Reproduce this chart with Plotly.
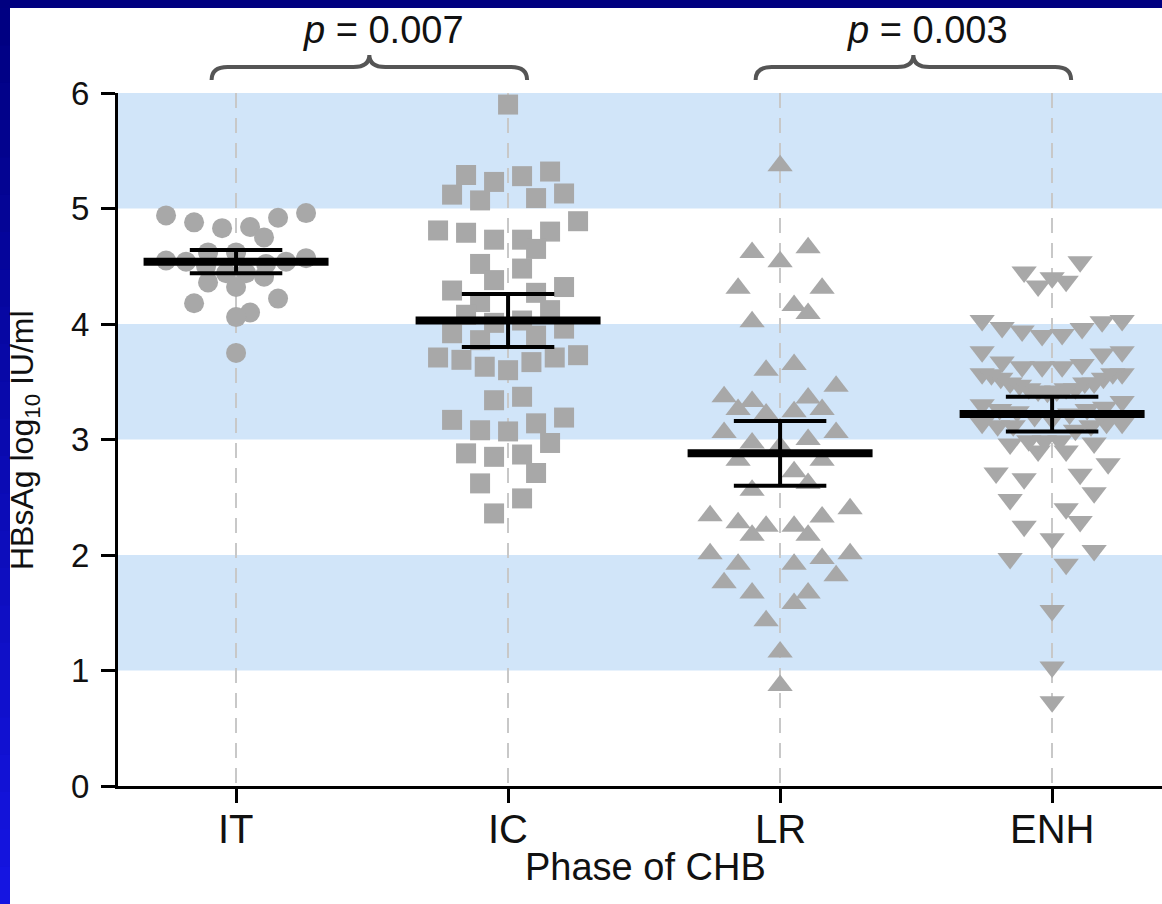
import plotly.graph_objects as go

# ---------------- data ----------------
categories = ["IT", "IC", "LR", "ENH"]

it_values = [4.96, 4.94, 4.92, 4.88, 4.84, 4.83, 4.75, 4.62, 4.62, 4.57, 4.55,
             4.54, 4.54, 4.52, 4.50, 4.44, 4.44, 4.41, 4.36, 4.32, 4.22, 4.18,
             4.10, 4.06, 3.75]

ic_values = [5.90, 5.32, 5.29, 5.28, 5.23, 5.13, 5.12, 5.09, 5.07, 4.89, 4.81,
             4.80, 4.79, 4.73, 4.73, 4.65, 4.52, 4.48, 4.38, 4.32, 4.29, 4.27,
             4.19, 4.12, 4.08, 4.03, 4.01, 3.96, 3.92, 3.90, 3.86, 3.73, 3.71,
             3.71, 3.69, 3.67, 3.63, 3.60, 3.37, 3.34, 3.19, 3.17, 3.14, 3.08,
             3.07, 2.97, 2.88, 2.87, 2.85, 2.71, 2.62, 2.49, 2.36]

lr_values = [5.37, 4.66, 4.62, 4.54, 4.31, 4.31, 4.16, 4.09, 4.02, 3.65, 3.60,
             3.46, 3.37, 3.36, 3.33, 3.26, 3.26, 3.24, 3.22, 3.06, 3.06, 3.00,
             2.97, 2.94, 2.82, 2.82, 2.72, 2.62, 2.56, 2.40, 2.34, 2.33, 2.28,
             2.25, 2.25, 2.17, 2.17, 2.01, 2.01, 1.97, 1.92, 1.92, 1.82, 1.76,
             1.67, 1.67, 1.58, 1.43, 1.16, 0.87]

enh_values = [4.54, 4.45, 4.40, 4.37, 4.33,
              4.03, 4.03, 4.02, 3.97, 3.96, 3.94, 3.91, 3.90,
              3.76, 3.76, 3.74, 3.67, 3.65, 3.63, 3.63, 3.63,
              3.57, 3.57, 3.57, 3.56, 3.53, 3.53, 3.49, 3.49, 3.49, 3.47,
              3.44, 3.44, 3.44, 3.42, 3.42, 3.41,
              3.33, 3.30, 3.28, 3.26, 3.26, 3.24, 3.22, 3.20, 3.18,
              3.14, 3.14, 3.14, 3.12, 3.12, 3.12, 3.08,
              2.99, 2.99, 2.99, 2.97, 2.96, 2.90, 2.90,
              2.79, 2.71, 2.70, 2.66, 2.54, 2.48, 2.40, 2.29, 2.25, 2.14,
              2.04, 1.97, 1.92, 1.52, 1.03, 0.73]

group_means = [4.54, 4.03, 2.88, 3.22]
group_sems = [0.10, 0.23, 0.28, 0.15]

p_labels = ["0.007", "0.003"]
p_pairs = [(0, 1), (2, 3)]

y_ticks = [0, 1, 2, 3, 4, 5, 6]
shaded_bands = [(1, 2), (3, 4), (5, 6)]

y_title = "HBsAg log<sub>10</sub> IU/ml"
x_title = "Phase of CHB"

# ---------------- layout constants ----------------
W, H = 1162, 904
ML, MR, MT, MB = 118, 0, 93, 118
X_RANGE = [-0.434, 3.404]
Y_RANGE = [0, 6]
PLOT_W = W - ML - MR
PLOT_H = H - MT - MB
PX_X = PLOT_W / (X_RANGE[1] - X_RANGE[0])
PX_Y = PLOT_H / (Y_RANGE[1] - Y_RANGE[0])

MARKER_COLOR = "#A8A8A8"
BAND_COLOR = "#D1E5F9"
TEXT_COLOR = "#111111"
FONT = "Liberation Sans, Arial, Helvetica, sans-serif"


def px2paper_x(px):
    return (px - ML) / PLOT_W


def px2paper_y(py):
    return (H - MB - py) / PLOT_H


def row_scatter_offsets(values, row_h=0.16, spacing_px=28, max_half_px=70, near=0.25):
    """Prism-like scatter: points grouped into horizontal rows, highest values outermost;
    neighbouring rows alternate their slot parity so they interleave."""
    order = sorted(range(len(values)), key=lambda i: -values[i])
    offsets = [0.0] * len(values)
    rows, cur = [], []
    for i in order:
        if cur and values[cur[0]] - values[i] >= row_h:
            rows.append(cur)
            cur = []
        cur.append(i)
    if cur:
        rows.append(cur)
    prev_parity, prev_low = None, None
    for row in rows:
        n = len(row)
        nslots = n
        parity = n % 2  # 1 -> centre slot used, 0 -> offset by half spacing
        close = prev_low is not None and (prev_low - values[row[0]]) < near
        if close and prev_parity is not None and parity == prev_parity and (n + 1) * 0 + n * spacing_px <= 2 * max_half_px:
            nslots = n + 1
            parity = nslots % 2
        compressed = (nslots - 1) * spacing_px > 2 * max_half_px
        sp = spacing_px if not compressed else 2 * max_half_px / (nslots - 1)
        pos = [(j - (nslots - 1) / 2) * sp for j in range(nslots)]
        slots = []
        lo, hi = 0, nslots - 1
        toggle = True
        while lo <= hi:
            if toggle:
                slots.append(hi)
                hi -= 1
            else:
                slots.append(lo)
                lo += 1
            toggle = not toggle
        for idx, s in zip(row, slots):
            offsets[idx] = pos[s] / PX_X
        prev_parity = None if compressed else parity
        prev_low = values[row[-1]]
    return offsets


fig = go.Figure()

groups = [(it_values, "circle", 20), (ic_values, "square", 20),
          (lr_values, "triangle-up", 22), (enh_values, "triangle-down", 22)]

for gi, (vals, sym, size) in enumerate(groups):
    offs = row_scatter_offsets(vals)
    fig.add_trace(go.Scatter(
        x=[gi + o for o in offs], y=vals, mode="markers",
        marker=dict(symbol=sym, size=size, color=MARKER_COLOR, line=dict(width=0)),
        cliponaxis=False, showlegend=False, hoverinfo="y"))

# mean lines
MEAN_HALF = 0.34
CAP_HALF = 0.17
mx, my = [], []
for gi, m in enumerate(group_means):
    mx += [gi - MEAN_HALF, gi + MEAN_HALF, None]
    my += [m, m, None]
fig.add_trace(go.Scatter(x=mx, y=my, mode="lines",
                         line=dict(color="black", width=8),
                         showlegend=False, hoverinfo="skip"))
ex, ey = [], []
for gi, (m, s) in enumerate(zip(group_means, group_sems)):
    ex += [gi - CAP_HALF, gi + CAP_HALF, None, gi - CAP_HALF, gi + CAP_HALF, None,
           gi, gi, None]
    ey += [m + s, m + s, None, m - s, m - s, None, m - s, m + s, None]
fig.add_trace(go.Scatter(x=ex, y=ey, mode="lines",
                         line=dict(color="black", width=4),
                         showlegend=False, hoverinfo="skip"))

shapes = []
# white panel over blue frame
shapes.append(dict(type="rect", xref="paper", yref="paper",
                   x0=px2paper_x(10), x1=px2paper_x(W), y0=px2paper_y(H), y1=px2paper_y(8),
                   fillcolor="white", line=dict(width=0), layer="below"))
# left frame gradient
NSEG = 24
for k in range(NSEG):
    t = (k + 0.5) / NSEG
    r = int(0 + 22 * t)
    b = int(128 + 100 * t)
    shapes.append(dict(type="rect", xref="paper", yref="paper",
                       x0=px2paper_x(0), x1=px2paper_x(10),
                       y0=px2paper_y(8 + (H - 8) * (k + 1) / NSEG + 1),
                       y1=px2paper_y(8 + (H - 8) * k / NSEG),
                       fillcolor=f"rgb({r},{r},{b})", line=dict(width=0), layer="below"))
# blue bands
for y0, y1 in shaded_bands:
    shapes.append(dict(type="rect", xref="paper", yref="y", x0=0, x1=1, y0=y0, y1=y1,
                       fillcolor=BAND_COLOR, line=dict(width=0), layer="below"))

annotations = []
# braces with p values
for (a, b), lab in zip(p_pairs, p_labels):
    x0 = a - 0.09
    x1 = b + 0.07
    xm = (x0 + x1) / 2
    r = 16 / PX_X
    yb = px2paper_y(80)
    yh = px2paper_y(67)
    yt = px2paper_y(55)
    path = (f"M{x0},{yb} Q{x0},{yh} {x0 + r},{yh} L{xm - r},{yh} "
            f"Q{xm},{yh} {xm},{yt} Q{xm},{yh} {xm + r},{yh} "
            f"L{x1 - r},{yh} Q{x1},{yh} {x1},{yb}")
    shapes.append(dict(type="path", xref="x", yref="paper", path=path,
                       line=dict(color="#555555", width=4)))
    annotations.append(dict(x=xm + 14 / PX_X, y=px2paper_y(30), xref="x", yref="paper",
                            text=f"<i>p</i> = {lab}", showarrow=False,
                            xanchor="center", yanchor="middle",
                            font=dict(size=38, color=TEXT_COLOR, family=FONT)))

# x category labels
for gi, cat in enumerate(categories):
    annotations.append(dict(x=gi, y=px2paper_y(829), xref="x", yref="paper",
                            text=cat, showarrow=False, xanchor="center", yanchor="middle",
                            font=dict(size=40, color=TEXT_COLOR, family=FONT)))

annotations.append(dict(x=px2paper_x(645), y=px2paper_y(867), xref="paper", yref="paper",
                        text=x_title, showarrow=False, xanchor="center", yanchor="middle",
                        font=dict(size=38, color=TEXT_COLOR, family=FONT)))
annotations.append(dict(x=px2paper_x(25), y=px2paper_y(440), xref="paper", yref="paper",
                        text=y_title, textangle=-90, showarrow=False,
                        xanchor="center", yanchor="middle",
                        font=dict(size=32, color=TEXT_COLOR, family=FONT)))

fig.update_layout(
    width=W, height=H,
    margin=dict(l=ML, r=MR, t=MT, b=MB, pad=0),
    paper_bgcolor="#000080", plot_bgcolor="white",
    font=dict(family=FONT, color=TEXT_COLOR),
    shapes=shapes, annotations=annotations, showlegend=False,
    xaxis=dict(range=X_RANGE, tickvals=list(range(len(categories))), showticklabels=False,
               showgrid=True, gridcolor="#C8C8C8", gridwidth=2, griddash="15px,10px",
               zeroline=False, showline=True, linecolor="black", linewidth=3,
               ticks="outside", ticklen=14, tickwidth=3, tickcolor="black"),
    yaxis=dict(range=Y_RANGE, tickvals=y_ticks, showgrid=False, zeroline=False,
               showline=True, linecolor="black", linewidth=3,
               ticks="outside", ticklen=14, tickwidth=3, tickcolor="black",
               ticklabelstandoff=5,
               tickfont=dict(size=33, color=TEXT_COLOR, family=FONT)),
)

fig.write_html("out.html")
